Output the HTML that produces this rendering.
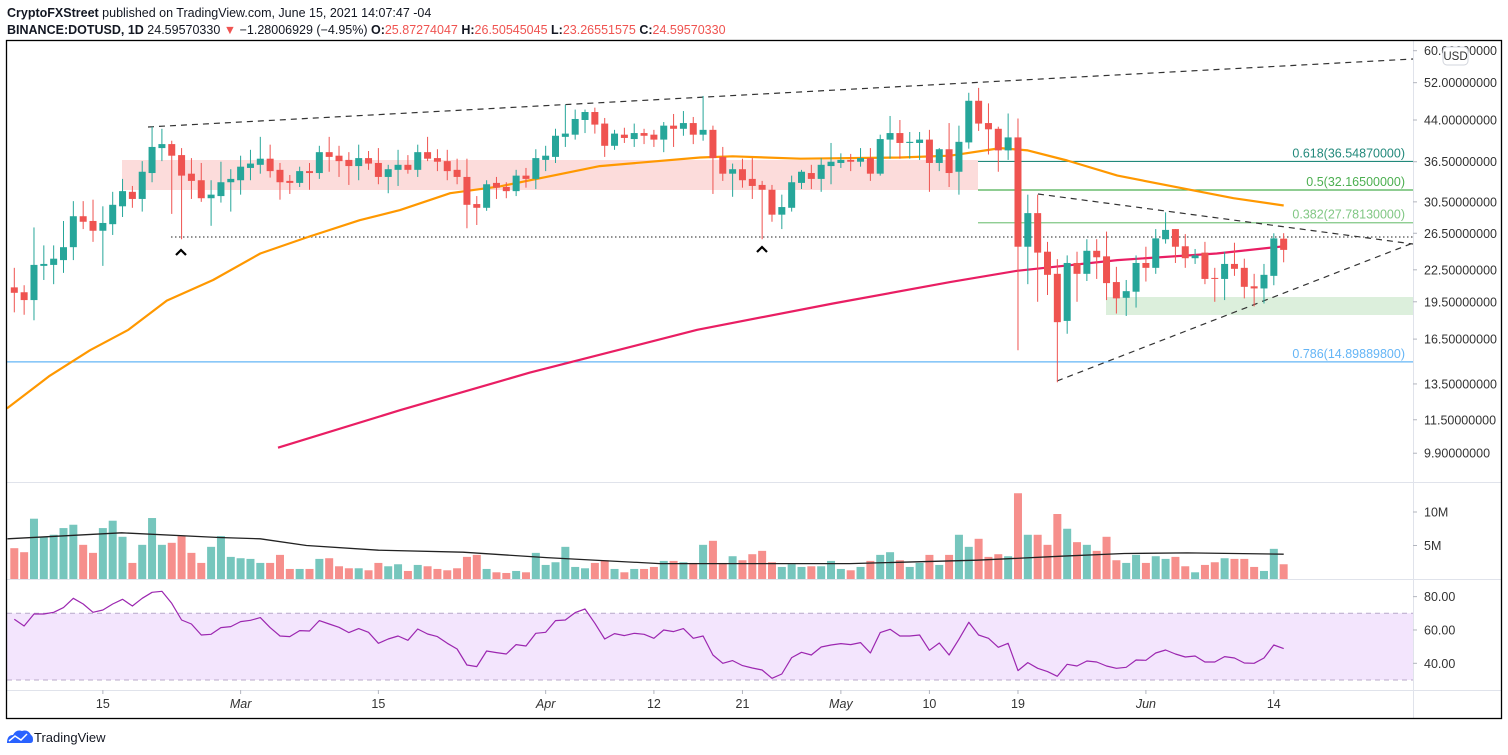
<!DOCTYPE html>
<html><head><meta charset="utf-8">
<style>
html,body{margin:0;padding:0;background:#fff;}
svg{display:block;font-family:"Liberation Sans",sans-serif;}
</style></head>
<body>
<svg id="chart" width="1508" height="755" viewBox="0 0 1508 755" xmlns="http://www.w3.org/2000/svg">
<text x="7" y="17" font-size="12.5" fill="#131722"><tspan font-weight="bold">CryptoFXStreet</tspan> published on TradingView.com, June 15, 2021 14:07:47 -04</text>
<text x="7" y="34" font-size="12.5" fill="#131722"><tspan font-weight="bold">BINANCE:DOTUSD, 1D</tspan> 24.59570330 <tspan fill="#ef5350">▼</tspan> −1.28006929 (−4.95%) <tspan font-weight="bold">O:</tspan><tspan fill="#ef5350">25.87274047</tspan> <tspan font-weight="bold">H:</tspan><tspan fill="#ef5350">26.50545045</tspan> <tspan font-weight="bold">L:</tspan><tspan fill="#ef5350">23.26551575</tspan> <tspan font-weight="bold">C:</tspan><tspan fill="#ef5350">24.59570330</tspan></text>
<g id="layer"></g>
</svg>
<script>
// ---- data ----
const candleOpen=[20.8,20.35,19.65,22.9,23.0,23.5,24.9,28.6,28.0,26.8,27.6,29.9,31.9,30.9,34.7,38.8,39.5,37.6,34.6,33.6,31.0,31.3,33.3,33.6,35.5,36.0,37.0,35.2,33.5,33.2,35.0,34.7,38.1,37.5,36.8,35.8,37.1,36.3,34.1,35.2,36.0,35.2,38.1,37.1,36.6,35.2,34.1,30.2,29.7,33.2,32.6,32.0,34.3,33.8,36.8,37.3,40.8,41.2,44.0,45.6,43.3,39.2,41.2,40.4,41.5,41.2,40.3,42.9,42.3,43.4,41.2,42.1,37.3,34.6,35.3,33.8,32.9,32.2,28.8,29.7,33.2,34.7,33.8,35.8,36.3,36.8,36.5,37.1,34.6,40.3,41.5,39.7,39.7,40.3,36.3,38.6,34.9,39.8,47.95,43.4,42.3,38.4,40.7,24.95,29.0,24.4,22.1,17.9,23.2,22.1,24.5,23.9,21.3,19.85,20.4,23.2,22.7,25.8,27.0,25.0,23.7,24.3,21.7,21.6,23.1,22.7,20.9,20.7,21.9,25.87];
const candleHigh=[22.7,21.0,27.2,25.1,25.1,28.0,30.6,30.6,30.8,29.9,31.9,33.8,32.75,36.6,42.7,42.3,40.1,38.8,37.1,36.3,33.6,36.5,35.3,37.5,38.5,40.8,39.4,36.3,34.4,35.7,36.3,39.2,40.8,39.2,38.1,39.4,38.3,38.8,36.0,38.5,37.6,39.4,40.8,38.6,38.5,37.0,37.0,31.3,33.6,34.1,33.3,35.2,35.5,38.6,39.2,42.3,47.1,46.1,46.1,46.5,44.4,42.1,42.5,43.3,42.3,42.1,43.6,45.2,45.8,44.6,49.0,42.9,39.0,36.2,37.0,37.1,33.5,32.9,31.5,34.3,35.2,36.0,37.1,39.7,37.9,37.8,38.8,38.8,41.2,44.8,44.0,41.7,41.7,42.1,38.8,43.4,42.9,49.7,50.8,47.4,42.7,45.3,44.3,31.5,31.5,25.5,23.6,24.0,24.4,25.8,25.8,26.7,22.8,21.5,24.0,24.95,27.0,29.1,27.0,26.4,24.7,25.5,22.7,24.4,25.4,23.65,22.1,23.1,26.5,26.51];
const candleLow=[18.6,18.4,17.95,21.5,21.1,22.2,23.5,27.0,25.5,22.9,26.3,28.5,29.7,29.2,33.3,36.6,28.9,25.8,30.9,30.5,27.4,30.4,29.2,31.5,33.6,34.6,34.0,30.8,31.6,32.6,32.2,33.8,34.9,34.1,32.9,33.6,35.2,33.0,31.7,32.75,34.6,34.1,36.6,35.0,33.6,33.0,27.1,27.5,29.3,30.9,31.0,31.3,32.5,32.3,35.0,36.3,39.0,40.3,41.5,41.4,37.3,38.5,39.7,39.0,39.5,39.0,38.1,39.0,41.0,39.5,40.1,31.6,33.5,31.2,32.5,30.9,25.8,27.9,27.0,29.2,32.3,32.3,31.9,33.0,35.5,35.0,35.7,33.5,34.3,37.0,37.0,37.0,36.8,31.9,35.0,32.6,31.5,38.7,41.9,37.7,34.9,36.8,15.7,21.1,19.5,20.1,13.6,16.9,19.5,21.4,21.6,19.65,18.5,18.3,19.0,21.35,22.1,25.3,23.2,22.7,23.1,21.1,19.5,19.65,21.9,19.8,19.1,19.35,21.0,23.27];
const candleClose=[20.3,19.65,23.0,23.1,23.65,24.9,28.6,27.9,26.8,27.75,30.1,32.0,30.9,34.9,39.0,39.5,37.5,34.3,33.5,31.0,31.5,33.3,33.8,35.7,36.2,37.0,35.0,33.3,33.2,35.0,34.7,38.1,37.3,36.6,35.8,37.1,36.2,34.1,35.3,36.0,35.2,38.1,37.0,36.5,35.0,34.1,30.1,29.7,33.0,32.5,32.0,34.3,33.8,37.1,37.5,41.0,41.4,44.2,45.6,43.1,39.2,41.4,40.6,41.5,41.0,40.3,42.9,42.3,43.4,41.2,42.1,37.1,34.6,35.3,33.6,32.75,32.2,28.8,29.8,33.3,34.9,33.8,36.0,36.5,36.8,36.5,37.1,34.6,40.4,41.5,39.7,39.9,40.3,36.3,38.6,34.7,39.9,47.95,43.3,42.2,38.4,40.7,24.95,29.0,24.3,22.0,17.8,23.2,22.1,24.5,23.8,21.2,19.8,20.45,23.2,22.7,25.9,26.9,24.95,23.7,24.0,21.6,21.6,23.1,22.6,20.85,20.7,22.0,25.9,24.6];
const volumeM=[4.6,4.0,9.0,6.3,6.6,7.6,8.1,5.1,3.9,7.6,8.7,6.3,2.4,5.1,9.1,5.1,5.4,6.4,3.9,2.4,4.8,6.4,3.3,3.1,3.0,2.4,2.4,3.6,1.5,1.5,1.5,3.0,3.1,1.9,1.6,1.6,1.3,2.4,1.9,2.2,1.2,2.1,1.9,1.5,1.3,1.6,3.3,3.6,1.5,1.0,0.9,1.2,1.0,3.9,2.1,2.5,4.8,1.8,1.6,2.4,2.8,1.5,1.0,1.5,1.5,1.8,2.7,2.7,2.5,2.4,5.1,5.7,2.4,3.4,2.8,3.7,4.2,2.5,1.8,2.2,1.8,1.9,1.9,2.7,1.5,1.3,1.8,2.7,3.6,4.0,2.8,1.8,2.4,3.6,2.1,3.6,6.6,4.8,6.0,3.3,3.7,3.4,12.8,6.6,6.6,5.1,9.7,7.5,5.5,5.1,4.2,6.3,2.8,2.4,3.6,2.4,3.4,3.0,3.3,1.9,1.0,2.1,2.5,3.1,3.0,3.0,1.8,1.2,4.5,2.2];
const rsiValues=[66.4,62.4,69.6,69.6,70.6,73.4,79,75.6,70.6,72,75.6,78.4,74.4,79,82.6,83.2,76,66,63.6,57,57.4,61.4,62,65,65.8,67.4,61.4,56.4,56,59.6,59.4,65.6,63.6,61.6,58.4,60.8,58.6,52,54.6,56.4,53.8,60.6,57.6,56,52,48.6,39,38,47.4,46.4,45.6,51.2,50.4,58,58.6,65.6,66,70.4,72.6,64,54.6,57.8,56.6,58,57.4,55,60,59,60.8,55,56.4,45,40,41.6,38.6,37.2,36,31,33.6,43.4,46.6,45,49.8,51,51.8,51.2,52.4,46.2,58.4,60.4,56.4,56.4,57,47.8,52.2,45,54.4,64.6,57,55,49.6,52,35.6,40.4,37,35,32.2,39.4,38.4,41.4,40.8,38.4,37,37.6,42,41.8,46.2,48,45.6,43.8,44.4,40.8,40.8,44,43.2,40.2,40,43.2,51,48.8];
const ma50Idx=[0.26,4.6,8.7,12.6,16.5,21.2,26,30.7,36.1,40.2,45.3,50.4,60.5,70.7,74,80.9,91,96.1,101.2,104,108,113.1,119.8,124.9,130];
const ma50Val=[12.1,14.0,15.7,17.2,19.6,21.5,24.2,26.0,28.1,29.4,31.7,32.7,35.8,37.2,37.4,37.0,37.2,37.5,38.8,38.4,36.7,34.3,32.4,31.0,30.0];
const ma200Idx=[27.8,40.2,53.4,70.4,84.2,96.1,102.9,113.1,123.2,130];
const ma200Val=[10.15,12.0,14.2,17.2,19.35,21.3,22.4,23.5,24.2,25.0];
const volMaIdx=[0.3,11.9,21.8,26,30.7,38,46.6,55.1,66.6,73.1,85.9,98.8,107.4,113.8,120.2,130];
const volMaVal=[6.0,6.9,6.2,6.0,5.0,4.3,4.0,3.2,2.3,2.3,2.3,2.8,3.4,3.8,3.9,3.7];
const priceTicks=[60,52,44,36.5,30.5,26.5,22.5,19.5,16.5,13.5,11.5,9.9];
const volTicks=[10,5];
const volTickLabels=["10M","5M"];
const rsiTicks=[80,60,40];
const dateIdx=[10,24,38,55,66,75,85,94,103,116,129];
const dateLabels=["15","Mar","15","Apr","12","21","May","10","19","Jun","14"];
const fibLevels=[36.5487,32.165,27.7813,14.898898];
const fibLabels=["0.618(36.54870000)","0.5(32.16500000)","0.382(27.78130000)","0.786(14.89889800)"];

// ---- scales ----
const xOf=i=>14.3+(i-1)*9.84;
const yP=p=>50.7+(Math.log(60)-Math.log(p))*223.4;
const yV=v=>579-v*6.7;
const yR=r=>613.3-(r-70)*1.667;
const NS="http://www.w3.org/2000/svg";
const layer=document.getElementById('layer');
function mk(tag,attrs,parent){const e=document.createElementNS(NS,tag);for(const k in attrs)e.setAttribute(k,attrs[k]);(parent||layer).appendChild(e);return e;}

const defs=mk('defs',{});
const cp=mk('clipPath',{id:'pc'},defs);mk('rect',{x:7,y:41,width:1406,height:441},cp);
const cv=mk('clipPath',{id:'vc'},defs);mk('rect',{x:7,y:483,width:1406,height:96},cv);
const cr=mk('clipPath',{id:'rc'},defs);mk('rect',{x:7,y:580,width:1406,height:110},cr);

// pane separators & axis line
let e;
e=mk('line',{x1:7,y1:482.5,x2:1501,y2:482.5,stroke:'#e0e3eb'});
e=mk('line',{x1:7,y1:579.5,x2:1501,y2:579.5,stroke:'#e0e3eb'});
e=mk('line',{x1:7,y1:690.5,x2:1501,y2:690.5,stroke:'#e0e3eb'});
e=mk('line',{x1:1413.5,y1:41,x2:1413.5,y2:718,stroke:'#e0e3eb'});

const pg=mk('g',{'clip-path':'url(#pc)'});

// zones
e=mk('rect',{x:122,y:160,width:856,height:30,fill:'#fcdcdb'},pg);
e=mk('rect',{x:1106,y:297,width:307,height:18,fill:'#dcefdc'},pg);
// fib lines
const fibColors=['#22897b','#4caf50','#81c784','#64b5f6'];
fibLevels.forEach((f,k)=>{const y=yP(f);const x0=k===3?7:978;
 const l=mk('line',{x1:x0,y1:y,x2:1413,y2:y,stroke:fibColors[k],'stroke-width':1.2},pg);
 
 const t=mk('text',{x:1405,y:y-4,'font-size':12.5,fill:fibColors[k],'text-anchor':'end'},pg);t.textContent=fibLabels[k];
 });
// dotted support line
e=mk('line',{x1:171,y1:237,x2:1413,y2:237,stroke:'#222','stroke-width':1,'stroke-dasharray':'1.5,2.5'},pg);
// trend lines
e=mk('line',{x1:148,y1:127,x2:1413,y2:59,stroke:'#333','stroke-width':1.2,'stroke-dasharray':'6,5'},pg);
e=mk('line',{x1:1038,y1:194,x2:1413,y2:244,stroke:'#333','stroke-width':1.2,'stroke-dasharray':'6,5'},pg);
e=mk('line',{x1:1057,y1:381,x2:1413,y2:243,stroke:'#333','stroke-width':1.2,'stroke-dasharray':'6,5'},pg);
// carets
[[181,252],[762,249]].forEach(c=>{const p=mk('polyline',{points:`${c[0]-5},${c[1]+3} ${c[0]},${c[1]-2} ${c[0]+5},${c[1]+3}`,fill:'none',stroke:'#000','stroke-width':2.2},pg);});
// MAs
function line(idx,val,yf,color,w,g,name){const pts=idx.map((i,k)=>xOf(i).toFixed(1)+','+yf(val[k]).toFixed(1)).join(' ');const p=mk('polyline',{points:pts,fill:'none',stroke:color,'stroke-width':w,'stroke-linejoin':'round'},g);return p;}
line(ma50Idx,ma50Val,yP,'#ff9800',2.2,pg,'ma50-line');
line(ma200Idx,ma200Val,yP,'#e91e63',2.2,pg,'ma200-line');
// candles
for(let i=0;i<candleOpen.length;i++){
 const o=candleOpen[i],c=candleClose[i],h=candleHigh[i],l=candleLow[i];
 const up=c>=o,col=up?'#26a69a':'#ef5350',x=xOf(i+1);
 const g=mk('g',{},pg);
 
 
 mk('line',{x1:x,y1:yP(h),x2:x,y2:yP(l),stroke:col,'stroke-width':1},g);
 const yt=yP(Math.max(o,c)),yb=yP(Math.min(o,c));
 mk('rect',{x:x-3.5,y:yt,width:7,height:Math.max(1,yb-yt),fill:col},g);
}
// volume
const vg=mk('g',{'clip-path':'url(#vc)'});

for(let i=0;i<volumeM.length;i++){
 const up=candleClose[i]>=candleOpen[i],x=xOf(i+1);
 const r=mk('rect',{x:x-4,y:yV(volumeM[i]),width:8,height:579-yV(volumeM[i]),fill:up?'#76c6bd':'#f68f8c'},vg);
 
 
}
line(volMaIdx,volMaVal,yV,'#222',1.3,vg,'volume-ma-line');
// RSI
const rg=mk('g',{'clip-path':'url(#rc)'});

e=mk('rect',{x:7,y:yR(70),width:1406,height:yR(30)-yR(70),fill:'#f3e5fd'},rg);
[70,30].forEach(v=>{const l=mk('line',{x1:7,y1:yR(v),x2:1413,y2:yR(v),stroke:'#b8a9c9','stroke-dasharray':'5,4'},rg);});
line(rsiValues.map((v,k)=>k+1),rsiValues,yR,'#9c27b0',1.2,rg,'rsi-line');
// price axis labels
priceTicks.forEach(p=>{const y=yP(p);mk('line',{x1:1413,y1:y,x2:1417,y2:y,stroke:'#b2b5be'});
 const t=mk('text',{x:1424,y:y+4.5,'font-size':12.5,fill:'#333'});t.textContent=p.toFixed(8);
 });
e=mk('rect',{x:1443,y:47,width:25,height:18,rx:4,fill:'#fff',stroke:'#d1d4dc'});
e=mk('text',{x:1455.5,y:60,'font-size':11.5,fill:'#333','text-anchor':'middle'});e.textContent='USD';
volTicks.forEach((v,k)=>{const y=yV(v);mk('line',{x1:1413,y1:y,x2:1417,y2:y,stroke:'#b2b5be'});const t=mk('text',{x:1424,y:y+4.5,'font-size':12.5,fill:'#333'});t.textContent=volTickLabels[k];});
rsiTicks.forEach(v=>{const y=yR(v);mk('line',{x1:1413,y1:y,x2:1417,y2:y,stroke:'#b2b5be'});const t=mk('text',{x:1424,y:y+4.5,'font-size':12.5,fill:'#333'});t.textContent=v.toFixed(2);});
// dates
dateIdx.forEach((d,k)=>{const x=xOf(d);mk('line',{x1:x,y1:690,x2:x,y2:694,stroke:'#b2b5be'});const t=mk('text',{x:x,y:708,'font-size':12.5,fill:'#333','text-anchor':'middle','font-style':isNaN(dateLabels[k])?'italic':'normal'});t.textContent=dateLabels[k];});
// frame
e=mk('rect',{x:6.5,y:40.5,width:1495,height:678,fill:'none',stroke:'#000','stroke-width':1.3});
// logo
const lg=mk('g',{});

mk('path',{d:'M7 743 Q7 735 13 735 Q16 729 22 731 Q28 729 31 735 Q33 736 33 740 Q33 743 30 743 Z',fill:'#2962ff'},lg);
mk('polyline',{points:'9,741 15,736 21,740 27,734',fill:'none',stroke:'#fff','stroke-width':1.5},lg);
const tl=mk('text',{x:34,y:742,'font-size':13,fill:'#131722'},lg);tl.textContent='TradingView';
</script>
</body></html>
